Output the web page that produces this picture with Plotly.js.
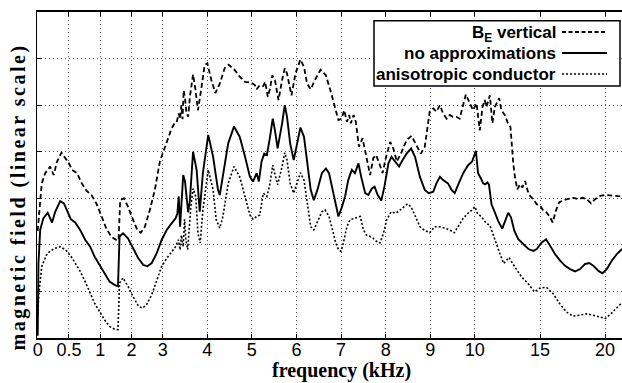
<!DOCTYPE html>
<html><head><meta charset="utf-8">
<script src="https://cdn.plot.ly/plotly-3.0.1.min.js"></script>
<style>html,body{margin:0;padding:0;background:#fff;}#chart{width:622px;height:383px;}</style>
</head><body><div id="chart"></div>
<script>
// x-axis tick frequencies (kHz), their labels, and the stretched axis scale
const tickFreq = [0, 0.5, 1, 2, 3, 4, 5, 6, 7, 8, 9, 10, 15, 20];
const tickText = ['0', '0.5', '1', '2', '3', '4', '5', '6', '7', '8', '9', '10', '15', '20'];
const scaleStops = [0, 1, 2, 3, 4, 5.43, 6.85, 8.28, 9.71, 11.14, 12.56, 13.99, 16.08, 18.16];

// B_E vertical (dashed)
const freqBE = [0, 0.02, 0.065, 0.12, 0.2, 0.255, 0.31, 0.38, 0.446, 0.5, 0.552, 0.629, 0.706, 0.784, 0.861, 0.938, 1.03, 1.19, 1.35, 1.55, 1.59, 1.64, 1.76, 1.89, 2.05, 2.19, 2.3, 2.43, 2.59, 2.75, 2.91, 3.01, 3.11, 3.2, 3.26, 3.31, 3.36, 3.39, 3.42, 3.445, 3.47, 3.5, 3.53, 3.57, 3.61, 3.68, 3.73, 3.79, 3.87, 3.94, 4.0, 4.09, 4.18, 4.28, 4.39, 4.48, 4.62, 4.73, 4.85, 5.0, 5.07, 5.11, 5.18, 5.26, 5.3, 5.36, 5.41, 5.46, 5.52, 5.6, 5.68, 5.74, 5.79, 5.89, 5.98, 6.09, 6.17, 6.24, 6.32, 6.43, 6.54, 6.66, 6.77, 6.88, 6.94, 7.01, 7.07, 7.13, 7.18, 7.22, 7.28, 7.33, 7.4, 7.48, 7.55, 7.65, 7.72, 7.78, 7.84, 7.93, 8.0, 8.1, 8.17, 8.25, 8.36, 8.47, 8.58, 8.69, 8.79, 8.88, 8.99, 9.07, 9.14, 9.22, 9.29, 9.37, 9.44, 9.51, 9.59, 9.66, 9.74, 9.8, 9.87, 9.96, 10.13, 10.38, 10.59, 10.76, 10.89, 11.15, 11.35, 11.53, 11.86, 12.04, 12.29, 12.54, 12.73, 12.82, 12.95, 13.08, 13.26, 13.46, 13.64, 13.85, 14.05, 14.23, 14.49, 14.74, 15.0, 15.26, 15.51, 15.77, 15.97, 16.21, 16.46, 16.79, 17.18, 17.56, 17.95, 18.26, 18.59, 18.92, 19.23, 19.62, 20.0, 20.38, 20.77, 21.3];
const valBE = [2.3, 2.6, 3.32, 3.54, 3.68, 3.5, 3.79, 3.98, 3.86, 3.75, 3.61, 3.54, 3.32, 3.16, 3.07, 2.89, 2.64, 2.36, 2.18, 2.09, 2.11, 2.96, 3.0, 2.82, 2.54, 2.32, 2.26, 2.39, 2.75, 3.18, 3.79, 4.0, 4.25, 4.5, 4.6, 4.62, 4.82, 4.7, 5.0, 4.7, 5.32, 5.15, 4.85, 4.75, 5.18, 5.66, 5.36, 4.89, 5.39, 5.86, 5.9, 5.54, 5.26, 5.46, 5.79, 5.87, 5.75, 5.61, 5.5, 5.48, 5.43, 5.34, 5.43, 5.41, 5.5, 5.18, 5.36, 5.64, 5.54, 5.11, 5.54, 5.79, 5.68, 5.21, 5.68, 5.98, 5.82, 5.46, 5.34, 5.57, 5.76, 5.64, 5.29, 4.89, 4.68, 4.71, 4.89, 4.64, 4.79, 4.61, 4.79, 4.64, 4.11, 4.29, 3.96, 3.5, 3.86, 3.93, 3.79, 3.54, 3.86, 4.21, 4.07, 3.79, 4.0, 4.25, 4.34, 4.14, 3.96, 4.11, 4.86, 4.93, 4.86, 5.0, 4.82, 4.71, 4.79, 4.75, 4.75, 4.71, 5.04, 5.23, 5.08, 4.89, 5.04, 4.46, 4.96, 5.11, 4.96, 5.21, 4.61, 4.96, 5.15, 4.89, 4.79, 4.61, 4.53, 4.09, 3.73, 3.44, 3.19, 3.3, 3.23, 3.37, 3.16, 3.05, 2.98, 2.87, 2.84, 2.73, 2.69, 2.59, 2.48, 2.73, 2.91, 2.96, 2.98, 3.01, 2.98, 3.01, 2.98, 2.89, 2.98, 3.05, 3.07, 3.06, 3.05, 3.04];

// no approximations (solid)
const freqFull = [0, 0.012, 0.04, 0.09, 0.16, 0.23, 0.28, 0.36, 0.42, 0.47, 0.53, 0.6, 0.68, 0.76, 0.84, 0.91, 0.99, 1.14, 1.3, 1.46, 1.57, 1.62, 1.73, 1.89, 2.05, 2.22, 2.38, 2.51, 2.65, 2.81, 2.97, 3.09, 3.2, 3.29, 3.33, 3.36, 3.39, 3.42, 3.46, 3.5, 3.54, 3.57, 3.61, 3.68, 3.76, 3.83, 3.9, 4.02, 4.13, 4.24, 4.28, 4.35, 4.47, 4.6, 4.73, 4.85, 4.96, 5.03, 5.11, 5.16, 5.22, 5.28, 5.34, 5.41, 5.47, 5.52, 5.58, 5.68, 5.74, 5.79, 5.86, 5.94, 6.02, 6.09, 6.17, 6.24, 6.32, 6.39, 6.47, 6.57, 6.66, 6.73, 6.81, 6.88, 6.94, 7.01, 7.09, 7.16, 7.24, 7.31, 7.39, 7.45, 7.54, 7.61, 7.69, 7.75, 7.82, 7.9, 7.97, 8.06, 8.13, 8.21, 8.3, 8.36, 8.47, 8.57, 8.66, 8.77, 8.88, 8.97, 9.07, 9.14, 9.22, 9.29, 9.4, 9.48, 9.55, 9.64, 9.74, 9.85, 9.94, 10.08, 10.25, 10.46, 10.64, 10.8, 10.97, 11.08, 11.28, 11.54, 11.79, 12.1, 12.31, 12.56, 12.77, 13.03, 13.33, 13.72, 14.1, 14.49, 14.74, 15.13, 15.46, 15.77, 16.15, 16.54, 16.92, 17.31, 17.69, 18.08, 18.46, 18.77, 19.1, 19.49, 19.79, 20.13, 20.51, 20.9, 21.3];
const valFull = [0.05, 1.6, 2.32, 2.57, 2.69, 2.48, 2.71, 2.94, 2.89, 2.75, 2.55, 2.48, 2.32, 2.11, 1.96, 1.75, 1.57, 1.36, 1.21, 1.14, 1.11, 2.18, 2.25, 2.14, 1.93, 1.71, 1.57, 1.54, 1.61, 1.82, 2.11, 2.32, 2.46, 2.57, 2.68, 3.04, 2.39, 3.0, 3.5, 3.36, 2.9, 2.7, 2.96, 4.0, 3.61, 2.71, 3.54, 4.36, 3.89, 3.18, 3.07, 3.46, 4.18, 4.54, 4.32, 3.89, 3.46, 3.36, 3.54, 3.36, 3.79, 3.96, 3.93, 4.32, 4.71, 4.46, 4.07, 4.61, 5.0, 4.75, 4.18, 3.82, 4.18, 4.52, 4.32, 3.75, 3.18, 2.96, 3.18, 3.54, 3.64, 3.54, 3.21, 2.86, 2.61, 2.79, 3.04, 3.39, 3.61, 3.54, 3.75, 3.46, 3.11, 3.07, 3.21, 3.25, 3.07, 2.95, 3.25, 3.75, 3.89, 3.79, 3.68, 3.79, 3.96, 4.07, 3.89, 3.46, 3.18, 3.11, 3.14, 3.32, 3.46, 3.39, 3.32, 3.18, 3.11, 3.32, 3.54, 3.71, 3.79, 4.02, 3.54, 3.43, 3.32, 3.3, 3.34, 3.3, 2.87, 2.69, 2.51, 2.35, 2.51, 2.69, 2.59, 2.3, 2.12, 2.01, 1.91, 1.87, 1.91, 2.05, 2.12, 1.98, 1.8, 1.66, 1.55, 1.48, 1.43, 1.48, 1.59, 1.61, 1.55, 1.44, 1.39, 1.48, 1.66, 1.8, 1.91];

// anisotropic conductor (dotted)
const freqAniso = [0, 0.02, 0.065, 0.15, 0.26, 0.36, 0.45, 0.53, 0.6, 0.68, 0.76, 0.84, 0.91, 0.99, 1.14, 1.3, 1.46, 1.57, 1.62, 1.73, 1.89, 2.05, 2.22, 2.34, 2.48, 2.65, 2.81, 2.97, 3.09, 3.2, 3.29, 3.35, 3.39, 3.42, 3.46, 3.49, 3.52, 3.56, 3.63, 3.68, 3.74, 3.79, 3.84, 3.9, 4.02, 4.13, 4.2, 4.28, 4.35, 4.47, 4.6, 4.73, 4.85, 4.96, 5.03, 5.11, 5.18, 5.26, 5.34, 5.41, 5.47, 5.52, 5.58, 5.68, 5.74, 5.79, 5.86, 5.94, 6.02, 6.09, 6.17, 6.24, 6.32, 6.39, 6.47, 6.57, 6.64, 6.73, 6.81, 6.88, 6.94, 7.0, 7.05, 7.13, 7.2, 7.31, 7.43, 7.5, 7.57, 7.65, 7.72, 7.8, 7.87, 7.95, 8.02, 8.12, 8.21, 8.28, 8.4, 8.49, 8.57, 8.66, 8.77, 8.88, 8.99, 9.1, 9.22, 9.33, 9.44, 9.54, 9.63, 9.74, 9.85, 9.94, 10.0, 10.2, 10.51, 10.89, 11.15, 11.53, 11.91, 12.21, 12.62, 13.05, 13.56, 14.07, 14.58, 14.96, 15.48, 15.98, 16.5, 17.02, 17.52, 18.04, 18.55, 19.06, 19.58, 20.04, 20.48, 20.86, 21.3];
const valAniso = [0.5, 0.96, 1.54, 1.81, 1.92, 1.96, 1.89, 1.76, 1.61, 1.43, 1.21, 0.96, 0.75, 0.57, 0.39, 0.25, 0.19, 0.18, 1.18, 1.29, 1.11, 0.89, 0.69, 0.64, 0.71, 0.93, 1.25, 1.54, 1.71, 1.86, 1.96, 2.11, 1.89, 2.21, 1.96, 2.55, 2.1, 1.9, 2.82, 3.21, 3.04, 2.25, 2.04, 2.75, 3.61, 3.18, 2.54, 2.36, 2.61, 3.32, 3.68, 3.46, 3.04, 2.64, 2.55, 2.61, 2.64, 3.11, 3.04, 3.32, 3.71, 3.54, 3.29, 3.68, 3.98, 3.82, 3.32, 3.11, 3.36, 3.55, 3.39, 2.89, 2.39, 2.32, 2.5, 2.71, 2.75, 2.61, 2.32, 2.04, 1.9, 1.86, 2.04, 2.39, 2.54, 2.57, 2.61, 2.32, 2.21, 2.18, 2.14, 2.07, 2.04, 2.25, 2.54, 2.71, 2.68, 2.71, 2.82, 2.88, 2.82, 2.64, 2.39, 2.31, 2.26, 2.39, 2.39, 2.36, 2.32, 2.26, 2.39, 2.57, 2.68, 2.75, 2.82, 2.68, 2.6, 2.46, 2.42, 2.1, 1.82, 1.6, 1.73, 1.53, 1.32, 1.17, 0.99, 1.07, 1.09, 0.96, 0.74, 0.56, 0.47, 0.49, 0.52, 0.49, 0.46, 0.42, 0.53, 0.64, 0.76];

const legendNames = ['B<sub>E</sub> vertical', 'no approximations', 'anisotropic conductor'];

function warp(f) {
  const n = tickFreq.length;
  for (let i = 0; i < n - 1; i++) {
    if (f <= tickFreq[i + 1] || i === n - 2) {
      return scaleStops[i] + (f - tickFreq[i]) / (tickFreq[i + 1] - tickFreq[i]) * (scaleStops[i + 1] - scaleStops[i]);
    }
  }
}

const W = 622, H = 383, ML = 37, MR = 0, MT = 12, MB = 45;
const PW = W - ML - MR, PH = H - MT - MB;
const px = x => (x - ML) / PW;
const py = y => (H - MB - y) / PH;

const styles = [
  {dash: '5px,3px', width: 1.8},
  {dash: 'solid', width: 1.9},
  {dash: '2px,2px', width: 1.6}
];
const series = [[freqBE, valBE], [freqFull, valFull], [freqAniso, valAniso]];

const traces = series.map((s, i) => ({
  type: 'scatter', mode: 'lines',
  x: s[0].map(warp), y: s[1],
  line: {color: '#000', width: styles[i].width, dash: styles[i].dash},
  name: legendNames[i], hoverinfo: 'skip'
}));

const shapes = [{
  type: 'rect', xref: 'paper', yref: 'paper', layer: 'above',
  x0: px(374), x1: px(620), y0: py(86), y1: py(20.7),
  line: {color: '#000', width: 1.5}, fillcolor: '#fff'
}];
const rowBase = [37, 58, 79];
const rowLine = [32, 53, 74];
const annotations = [];
legendNames.forEach((nm, i) => {
  shapes.push({
    type: 'line', xref: 'paper', yref: 'paper', layer: 'above',
    x0: px(562), x1: px(607), y0: py(rowLine[i]), y1: py(rowLine[i]),
    line: {color: '#000', width: styles[i].width, dash: i === 0 ? '4px,2.5px' : styles[i].dash}
  });
  annotations.push({
    xref: 'paper', yref: 'paper', x: px(557), y: py(rowBase[i] - 15.4),
    xanchor: 'right', yanchor: 'top', showarrow: false, borderpad: 0,
    text: nm, font: {family: 'Liberation Sans, Arial, sans-serif', size: 17, weight: 'bold', color: '#000'}
  });
});
annotations.push({
  xref: 'paper', yref: 'paper', x: px(341), y: py(358),
  xanchor: 'center', yanchor: 'top', showarrow: false, borderpad: 0,
  text: 'frequency (kHz)', font: {family: 'Liberation Serif, Times New Roman, serif', size: 20, weight: 'bold', color: '#000'}
});
annotations.push({
  xref: 'paper', yref: 'paper', x: px(18), y: py(197.5),
  xanchor: 'center', yanchor: 'middle', showarrow: false, borderpad: 0, textangle: -90,
  text: '<span style="letter-spacing:2.5px">magnetic field (linear scale)</span>',
  font: {family: 'Liberation Serif, Times New Roman, serif', size: 20, weight: 'bold', color: '#000'}
});

const layout = {
  width: W, height: H,
  margin: {l: ML, r: MR, t: MT, b: MB, pad: 0},
  paper_bgcolor: '#fff', plot_bgcolor: '#fff',
  showlegend: false,
  xaxis: {
    range: [warp(-0.011), warp(21.3)],
    tickmode: 'array', tickvals: tickFreq.map(warp), ticktext: tickText,
    ticks: 'inside', ticklen: 4, tickwidth: 1, tickcolor: '#000',
    ticklabelstandoff: -6,
    showline: true, linecolor: '#000', linewidth: 2, mirror: 'ticks',
    showgrid: true, gridcolor: '#555', gridwidth: 1, griddash: '1px,3px',
    zeroline: false,
    tickfont: {family: 'Liberation Sans, Arial, sans-serif', size: 18, color: '#000'}
  },
  yaxis: {
    range: [0, 7], tickmode: 'array', tickvals: [1, 2, 3, 4, 5, 6],
    showticklabels: false,
    ticks: 'inside', ticklen: 5, tickwidth: 1, tickcolor: '#000',
    showline: true, linecolor: '#000', linewidth: 1.5, mirror: false,
    showgrid: true, gridcolor: '#555', gridwidth: 1, griddash: '1px,3px',
    zeroline: false
  },
  shapes: shapes,
  annotations: annotations
};

Plotly.newPlot('chart', traces, layout, {staticPlot: true, displayModeBar: false});
</script>
</body></html>
